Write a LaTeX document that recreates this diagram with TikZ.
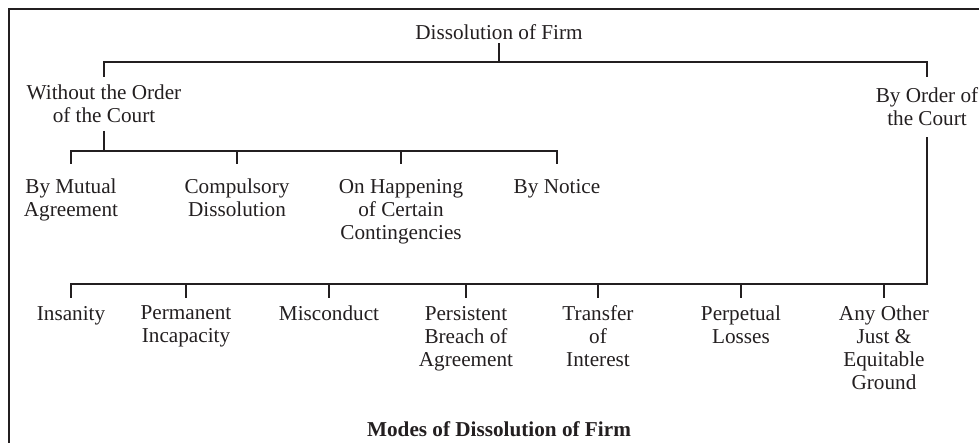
\documentclass[tikz,border=0pt]{standalone}
\usepackage{fontspec}
\setmainfont{Liberation Serif}
\definecolor{ink}{RGB}{35,31,32}

\begin{document}
\begin{tikzpicture}[
  x=0.5pt, y=-0.5pt,
  every node/.style={font=\fontsize{10.6}{11.5}\selectfont, text=ink, align=center, inner xsep=0pt, outer sep=0pt},
  mode/.style={anchor=north, inner ysep=4pt},
  kind/.style={anchor=north, inner ysep=7.5pt},
  ground/.style={anchor=north, inner ysep=4pt},
  tree/.style={draw=ink, line width=1.4pt, line join=miter},
  frame/.style={draw=ink, line width=1.4pt}
]
\useasboundingbox (0,0) rectangle (979,443);
\clip (0,0) rectangle (979,443);
\draw[frame] (9,470) |- (1010,9);

\node[anchor=base, inner ysep=1.5pt] (firm) at (499,40) {Dissolution of Firm};
\node[mode] (without) at (104,77) {Without the Order\\of the Court};
\node[mode, inner ysep=5.5pt] (byorder) at (927,77) {By Order of\\the Court};

\node[kind] (mutual) at (71,164) {By Mutual\\Agreement};
\node[kind] (compulsory) at (237,164) {Compulsory\\Dissolution};
\node[kind] (happening) at (401,164) {On Happening\\of Certain\\Contingencies};
\node[kind] (notice) at (557,164) {By Notice};

\node[ground] (insanity) at (71,298) {Insanity};
\node[ground] (incapacity) at (186,298) {Permanent\\Incapacity};
\node[ground] (misconduct) at (329,298) {Misconduct};
\node[ground] (breach) at (466,298) {Persistent\\Breach of\\Agreement};
\node[ground] (transfer) at (598,298) {Transfer\\of\\Interest};
\node[ground] (losses) at (741,298) {Perpetual\\Losses};
\node[ground] (other) at (884,298) {Any Other\\Just \&\\Equitable\\Ground};

\node[anchor=base, font=\fontsize{10.6}{11.5}\selectfont\bfseries] (caption) at (499,436) {Modes of Dissolution of Firm};

% first split
\coordinate (topbus) at (499,62);
\draw[tree] (firm) -- (topbus);
\draw[tree] (without) |- (topbus) -| (byorder);

% without the order of the court
\coordinate (midbus) at (104,151);
\draw[tree] (without) -- (midbus);
\draw[tree] (mutual) |- (midbus) -| (notice);
\draw[tree] (midbus -| compulsory) -- (compulsory);
\draw[tree] (midbus -| happening) -- (happening);

% by order of the court
\coordinate (lowbus) at (927,284);
\draw[tree] (byorder) -- (lowbus) -| (insanity);
\draw[tree] (lowbus -| incapacity) -- (incapacity);
\draw[tree] (lowbus -| misconduct) -- (misconduct);
\draw[tree] (lowbus -| breach) -- (breach);
\draw[tree] (lowbus -| transfer) -- (transfer);
\draw[tree] (lowbus -| losses) -- (losses);
\draw[tree] (lowbus -| other) -- (other);
\end{tikzpicture}
\end{document}
